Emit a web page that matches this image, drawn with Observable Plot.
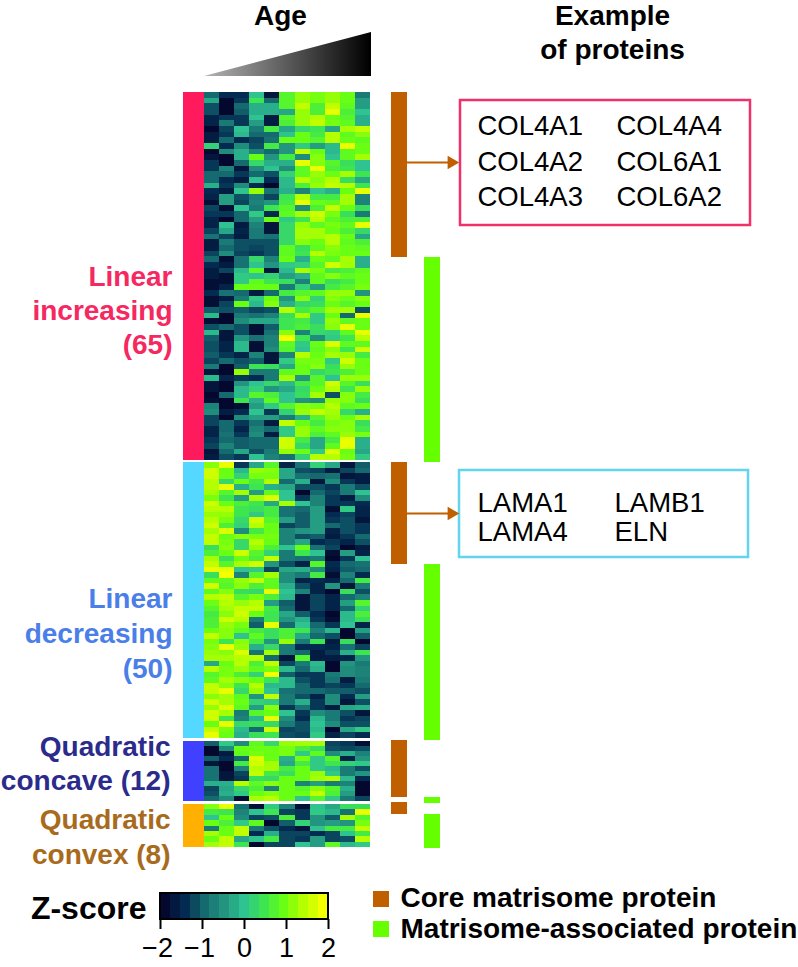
<!DOCTYPE html>
<html><head><meta charset="utf-8">
<style>html,body{margin:0;padding:0;background:#fff}svg{display:block}</style>
<script src="https://cdn.jsdelivr.net/npm/d3@7"></script>
<script src="https://cdn.jsdelivr.net/npm/@observablehq/plot@0.6"></script>
</head><body><div id="chart"></div>
<script>
// Z-scores: one row per protein, eleven age columns.
const linearIncreasing = [
[-1,-1.5,-1.5,0,-1.8,0.8,1.3,1.1,1.3,1,-0.8],
[-0.3,-2,-1.4,0.5,-1,0.8,1.3,1.1,1.3,1,-0.4],
[-1.2,-2,-1,-0.2,-0.2,0.8,1.6,0.7,1.6,0.9,-0.4],
[-1.2,-2,-1.1,-0.2,-0.2,-0.3,1.3,0.7,1.9,0.7,0],
[-1.6,-1.4,-1.4,0,-1.7,0.8,1.3,1.5,1,0.8,-0.2],
[-1.6,-0.8,-1.4,-0.4,-1.7,0.7,1.3,1.6,1.1,0.9,-0.2],
[-2,-1.3,0,-0.8,0.6,-0.3,0.3,0.5,-0.3,1.4,1.6],
[-1.7,-1.4,-0.1,-1,-1,0,1,0.6,1.5,0.9,1.2],
[-1.7,-1,-1.5,-1.3,-0.9,1,1,0.8,1.5,1,0.9],
[0.2,-1.5,-0.6,-1.2,0.6,-0.5,0.1,-0.4,-0.1,1.9,1],
[-2,-0.6,-0.2,-0.7,-1,-0.5,1.6,1,-0.1,0.9,1],
[-1.8,-2,-0.2,1,-0.5,0.6,-0.6,1.2,0,0.9,1.4],
[-1.4,-2,-1,0.3,-0.2,-0.2,1.9,1.2,0.8,0.4,0],
[-1.4,-0.7,-1.8,-0.6,0,-0.6,0.9,1.9,0.7,0.5,0],
[-1,-1,-1.4,-1,-1.2,0.2,0.9,1.3,1,1.4,0.5],
[-1,-1.5,-1.7,0,-1.5,-0.1,1.5,1.2,1.5,0.4,-0.3],
[-0.2,-1.4,-0.6,-1.5,-2,-0.1,0.7,1.3,1.6,1.5,0.5],
[-1.5,-1.7,0,1.3,-0.9,-0.2,-0.7,0,-0.2,1,1.9],
[-1.6,-0.4,-1.2,-0.8,-1.3,0.5,1.5,0.6,0.6,1.4,-0.7],
[-1.9,-0.4,-1.3,-0.7,-0.5,0.6,1.9,1,0.9,1.4,-0.7],
[-1.3,-1.9,0,-0.8,0.5,0.8,-0.6,0.7,1.6,1,0.4],
[-1.4,-1.4,-1,0.1,-1.5,0.9,1.4,1.7,1.1,0.4,-0.8],
[-1.6,-2,-1,-0.4,1,0.1,0.5,1.5,0.9,0.7,0.7],
[-1.6,0,-1.7,-0.7,-1.8,0.3,1.3,0.9,1.1,0.9,1.9],
[-1.3,-0.3,-1.6,-0.8,-1.8,0.3,1.4,1.4,1,0.7,0.3],
[-0.9,-1.3,-1.7,-0.8,-0.9,0.3,1.4,1.4,1.5,1,-0.3],
[-1.7,-0.8,-1.2,-1.2,-1.2,0.3,1.2,1,1.5,0.9,0.7],
[-1.7,-1,-1.2,-1.3,-1.2,0.9,0.4,0.9,1.2,1,0.9],
[-1.3,-0.6,-1.3,-1.4,-1.2,0.9,0.5,1.5,1.1,1,1],
[-1,-1.9,-0.9,0.3,-0.7,1,-0.2,1,0.9,1.4,-0.2],
[-1.5,-1.7,-0.9,0,-0.5,0.1,0.2,0.8,1.7,1.4,-0.2],
[-1.7,-1.3,-0.1,0.9,-1.8,-0.1,1.4,1.1,0.6,0.7,0.9],
[-1.7,-1.9,0.1,0,0.2,-0.4,-0.2,0.9,1.2,0.9,1],
[-1.9,-1.9,0.1,0.9,0.5,0.4,-0.7,0.9,0.4,0.6,1],
[-1.9,-1.6,1,1,1,-0.8,0.2,-0.4,0.6,0.8,1.1],
[-1.5,-0.9,-1,-1.7,-1,0.6,0.8,0.9,1.3,1.3,-0.5],
[-1.9,-1.7,-0.8,0.1,1,-0.5,1.2,0.2,1.2,1,1.2],
[-1.9,-1.3,1,-0.1,1.2,-0.2,0.3,0.4,1,0.8,1],
[-1.1,-1.2,-1.1,-1.3,-1.2,1.5,0.6,0.8,1.4,1.4,-1.2],
[-0.1,-2,-0.8,-0.9,-0.7,0.4,1.4,0.1,1,-1,1.9],
[-1.9,-2,-0.6,-0.3,-0.3,0.5,0.6,0.1,1.3,0.9,1],
[-1.2,-1,-1.2,-1.9,-1.1,0.5,0.7,0.4,1.2,1.9,1],
[-0.1,-1.8,-1.2,-1.9,-0.9,1.2,-0.7,0.3,0.2,0.9,1.9],
[-1.1,-1.8,-0.5,-0.9,-0.7,2,0.5,-0.6,0.1,0.5,1.5],
[-1.2,-1.6,-0.1,-1.9,-0.7,0.9,0.1,1,1.8,0.9,0.9],
[-1.2,-1.6,-0.1,-1.9,-0.6,0.8,0,0.9,1.2,0.5,1.7],
[-1.1,-1.4,-1.6,-0.7,-1.8,-0.7,1.5,1,1.4,1.3,0.6],
[-1.3,-1,-1.2,-1.1,-1.8,0.1,1.1,1.1,0.1,1.7,1],
[-0.8,-2,-1.1,0.5,0.4,-0.3,1,1.2,0.4,1.3,1],
[-1.8,-2,1.3,-0.8,-0.8,0.9,1,0.3,0.5,0.7,1],
[-0.1,-1.6,-1.4,-1.5,-0.8,1.4,-0.5,0.8,0,1.3,1.3],
[-1.8,-2,-0.5,0,0.3,-0.1,0.6,0.8,1.7,0.8,0.4],
[-1.8,-2,-0.1,0.2,-0.5,-0.3,0.3,1,1.5,0.5,1.3],
[-2,-1,-0.1,0.8,0.7,0,0.4,1.4,-1.2,1.2,0.6],
[-1.9,-2,0.5,-0.2,0.9,0,-0.5,-0.6,1.3,1.2,0.4],
[-0.7,-2,-1.9,-0.4,0.1,0.8,1.2,1.1,1.5,0.9,1],
[-0.6,-1.7,-1.5,0,-1.4,0.2,1.3,1.6,1.4,0.3,-0.2],
[-1.3,-2,-0.6,-0.4,-0.4,-0.8,-0.2,0.8,1.3,1,1.4],
[-1.3,-1,-1.4,-0.9,-1.7,1.6,1,0.6,1.1,1.2,0.4],
[-1.6,-1,-1.6,-0.7,-1,0.1,1.3,0.9,1.2,1.2,0.6],
[-1.6,-0.9,-1.4,-0.6,-1.7,0.1,1.3,0.7,0.9,1.3,1.1],
[-1.4,-1,-1.1,-1,-1,1.7,0.6,-0.3,0.6,1.9,-0.2],
[-1.3,-0.7,-1.1,-1,-1,1.7,0.3,-0.3,0.9,1.9,-0.2],
[-1.8,-1,-0.3,-1.2,-0.8,1.3,1,0.1,1.8,1,-0.3],
[-1.7,-1.2,-1.4,0,-0.7,-0.9,0.2,1.5,1.5,1.1,0.1]
];
const linearDecreasing = [
[1.2,1.9,-1.4,-0.3,0.8,-1.6,-0.9,0.2,-0.3,-1.8,-1.1],
[1.7,1,-0.1,1.3,1.2,-0.3,-1.2,-1.3,-1.7,-1.3,-1],
[1.7,1,0.2,1.1,1.1,-0.3,-0.9,-1,-0.9,-1.8,-1.7],
[1.5,0.3,1,0.6,1.5,-1,-0.2,-1.8,-0.6,-1.4,-1.7],
[1.5,1.9,-0.2,0.5,-0.2,-0.3,-1.2,-1.2,-1.4,-0.8,-1.2],
[1.4,0.8,1.4,-0.4,0.9,0,-2,-1,-1.3,-0.8,0],
[1.1,0.5,-0.4,1.4,1.8,0,-1.4,-0.7,-1.4,-1.7,-0.6],
[1.7,1,0.7,0.5,-0.3,1.4,0,-0.7,-1.4,-1.4,-1.5],
[1.5,1.5,0.5,0.4,0.6,-0.9,-1,-0.4,-1.9,0.1,-1.6],
[1.3,1.3,0.5,0.1,0.6,-0.9,-1.1,-0.4,-1.5,-1.3,-1.6],
[1.5,1.1,0.3,1.7,0.8,-0.4,-1.1,-0.4,-1.4,-1.2,-1.8],
[1.7,0.7,0.2,1.5,1,-1.3,-1.1,-0.4,-1,-1.2,-1.4],
[1.4,1.8,-0.6,0.6,1,-0.7,-0.5,-0.4,-1.6,-1.2,-1.4],
[1.6,1,1.2,1.1,1.1,-0.7,-1.2,-1.1,-1.7,-1.4,-1],
[1.6,1.1,0.3,1.5,1,-0.7,-0.3,-1.5,-1.4,-1.6,-1.2],
[0.4,1.2,0.3,1.3,0.7,0,1,-0.9,-1.3,-2,-1.7],
[0.7,1,1.7,0.8,0.2,-0.8,0.5,0,-1.9,-0.4,-1.6],
[1.4,0.4,1,0.7,1.6,-0.8,-0.9,-0.8,-2,-1.4,0],
[1.6,0.8,1.4,1.7,-0.5,-1.2,-1.6,0.8,-1.5,-1,-0.9],
[1.9,1.9,0,0.1,-1.3,-0.3,-0.2,-0.6,-1.6,-1.1,-1],
[0.4,2,-0.7,0.8,1.4,-0.6,-0.8,0.6,-1.9,-0.7,-1.5],
[0.9,0.9,1.3,1.6,0.9,-0.6,-1.6,-1.5,-1.6,-1,0.6],
[1.7,0.8,1.2,0.7,0.9,-0.2,-1.2,-1.6,-0.5,-1.8,-0.8],
[0.9,1.2,0.4,0.3,1.9,0,-0.7,-1.6,-2,0.4,-1.2],
[1.5,1.6,0.8,1.1,0.7,-0.1,-1.8,-1.3,-1.6,-1,-0.7],
[1,1.5,1.3,1.5,-0.4,-1.1,-1.8,-1.3,-1.6,-0.4,0.8],
[0.8,1.4,1.6,1.6,0.6,-1,-1.8,-1.3,-1.6,-1,0.2],
[0.6,1.2,1.7,1,0.5,-0.3,-1.1,-1.5,-2,-0.1,0.7],
[0.7,1.7,1.5,-0.8,0.5,-0.5,-0.2,-1.4,-1.9,-0.1,0.4],
[0.7,1.3,1.1,-1.1,1.9,-1,0,-1,-1.4,0,-1.6],
[1,1.2,0.9,0.6,0.4,0.7,0.5,-0.7,-0.1,-2,-0.4],
[1.6,1.2,0,0.9,0.4,0.7,-0.3,-1,-1.2,-2,-1.1],
[1.1,0.5,1.2,0.6,-0.5,1.3,-0.8,0.5,-1.7,0.4,-2],
[1.2,1.9,1.3,-0.2,0.3,-0.8,-1.5,-1.5,-1.6,-0.9,-1.3],
[1.3,1.2,1.8,-0.9,1.4,-0.8,-1,-1.7,-1.4,-0.2,0.5],
[1.4,1.4,1.5,1.5,-1,-1.8,0.8,-1.7,-1.7,-1.6,-0.5],
[-0.3,1,1.5,0.7,1.6,-1.3,-0.8,-0.1,-2,-0.5,-0.8],
[1.5,1.1,1.3,0.9,1.1,-0.1,-1,-0.2,-2,-0.6,-0.7],
[0.8,1.1,0.7,0.2,2,-1.1,-1.4,-1.4,-0.8,-0.6,-0.7],
[0.9,1.4,1.2,1,0.5,-0.1,-1.2,-1.4,-0.9,-1.7,-0.8],
[1.6,1.2,0.5,1.5,-0.1,-0.1,-1,-1.4,-1.3,-1.4,-1],
[1.6,1.9,0.3,1.3,0,-0.9,-1,-1,-1.1,-1.1,-1.2],
[1.2,1.4,0.9,-0.5,1.6,-0.8,-1.2,-1.6,-0.6,-1.5,-0.4],
[1.7,1.4,1,0.2,0.1,-0.8,-0.2,-1.4,-0.6,-1.8,-1.2],
[1.3,1.8,0.9,-0.4,1.2,-1.4,-0.9,-1.4,-1.7,-0.3,-0.2],
[1.7,1.4,-0.8,0.8,1,0,-1.4,-0.6,-0.8,-1.2,-1.8],
[1.7,0.5,-0.7,-0.1,1.9,-0.6,-1.5,-0.1,-0.8,-1.4,-1.3],
[1,1.9,0.3,0.4,0.3,-0.8,-1.2,0,-0.6,-1.2,-1.2],
[1.6,1.1,-0.1,-1,1.7,-1.3,-1.2,-0.1,-2,-0.3,0.1],
[1.9,1,-0.2,0.4,0.5,-1.2,-1.3,0.1,-1.6,-1.3,-1.5]
];
const quadraticConcave = [
[-1.1,0.1,-0.6,0.9,0.3,1.3,1.4,1.4,-1.3,-1.4,-1.9],
[-2,-0.6,1,1,1,1.1,0.7,0.4,-1.2,-1.3,-1.2],
[-2,-1.7,0.9,1.1,1,1.1,0.1,0.9,-0.6,-0.2,-0.7],
[-1.1,-1.5,-1,1.8,1,-0.2,1.1,0.1,0.8,-1.6,-0.5],
[-1.8,-2,0.6,1.7,1.4,-0.3,0.6,0.1,0.5,0.2,0.1],
[-0.9,-2,-0.7,1.5,1.4,0.6,1,0.1,-0.1,-0.8,-1.2],
[-0.9,-1.8,-1.3,1.6,0.6,0.4,1,1.3,0.1,-0.8,-0.5],
[-0.9,-1.8,-1.4,0.4,0.3,1,1,1.4,1.5,-0.1,-1.5],
[-0.2,-0.2,1.5,0.9,1.2,1,-0.7,-0.4,-0.8,-0.7,-2],
[-1.3,-0.3,0.3,0.7,-0.7,1,0.8,1.2,0.8,-0.2,-2],
[-1.2,-0.2,0.1,1,1.2,1,1,1.6,0.7,-0.4,-2],
[-1,-0.6,-1.9,1.4,1.5,1,0,0.8,0.1,-0.8,-1.3]
];
const quadraticConvex = [
[1.2,1.9,-0.9,-1.9,0.1,-0.7,-1.9,0,-0.3,0.4,0.4],
[0.6,0.5,-0.7,0,0.5,-1.3,-1.4,0.1,-0.1,-0.9,1.9],
[0,1,-0.6,-1.3,-1.2,0.7,-1.4,-0.5,-1.1,1.4,0.8],
[1,0.7,0.1,0.9,-2,-1.1,0.2,-0.5,-0.4,-0.5,1.1],
[-0.8,1,1.6,-0.8,-1.2,-1.5,-1.8,0,0.6,0.6,1.6],
[1.4,1,1.6,-1.5,-0.2,-1.3,-1.3,-1.5,-1.3,0,0.6],
[1,1.6,-0.3,0,0.6,-1.3,-1.4,-0.4,-1.3,-1.2,1.5],
[1.4,1.6,0.5,-2,-1.3,-1.3,0,-0.4,0.9,-0.1,0.1]
];
const clusters = [linearIncreasing, linearDecreasing, quadraticConcave, quadraticConvex];
const clusterNames = [["Linear","increasing","(65)"],["Linear","decreasing","(50)"],["Quadratic","concave (12)"],["Quadratic","convex (8)"]];
const clusterColors = ["#ff1a5e","#55d8ff","#4040ff","#ffb000"];
const labelColors = ["#f5285f","#4a7ee8","#2b2b8c","#a86a1c"];
const proteinsA = ["COL4A1","COL4A2","COL4A3","COL4A4","COL6A1","COL6A2"];
const proteinsB = ["LAMA1","LAMA4","LAMB1","ELN"];
const legendTicks = [-2,-1,0,1,2];
const legendSteps = [-2,-1.75,-1.5,-1.25,-1,-0.75,-0.5,-0.25,0,0.25,0.5,0.75,1,1.25,1.5,1.75,2];
const colorDomain = [-2,-1.5,-1,-0.5,0,0.5,1,1.5,2];
const colorRange = ["#04082e","#032a50","#156a70","#22947f","#2ec391","#3de550","#68ff14","#b4ff00","#f4ff00"];

// Layout (pixels of the page)
const W = 798, H = 967;
const heatLeft = 204, heatRight = 370;
const clusterBands = [[92,460],[462,738],[741,800.5],[804,847]];
const sideLeft = 183;
const coreBars = [[92,257],[462,564],[740,797],[802,814]];
const assocBars = [[257,462],[564,740],[797,803],[814,848]];
const colW = (heatRight-heatLeft)/11;

const cells = clusters.flatMap((rows,g)=>{
  const [t,b]=clusterBands[g], h=(b-t)/rows.length;
  return rows.flatMap((row,r)=>row.map((v,c)=>({v,
    x1:heatLeft+c*colW,x2:heatLeft+(c+1)*colW,y1:t+r*h,y2:t+(r+1)*h})));
});
const side = clusterBands.map(([y1,y2],i)=>({x1:sideLeft,x2:heatLeft,y1,y2,c:clusterColors[i]}));
const barRect=(spans,x1,x2)=>spans.map(([y1,y2])=>({x1,x2,y1,y2}));

const labelLines = [[277,311,345],[599,634,669],[747,781],[820,855]];
const labelRight = [172,172,170,170];
const labels = clusterNames.flatMap((ls,g)=>ls.map((t,i)=>({t,x:labelRight[g],y:labelLines[g][i],c:labelColors[g]})));

const barL=160, barR=328, barT=893, barB=919;
const legX=v=>barL+(v+2)/4*(barR-barL);
const stepW=(barR-barL)/legendSteps.length;
const legendCells = legendSteps.map((v,i)=>({v,x1:barL+i*stepW,x2:barL+(i+1)*stepW,y1:barT,y2:barB}));

const FONT = "Liberation Sans, Arial, sans-serif";
const chart = Plot.plot({
  width:W,height:H,margin:0,style:{fontFamily:FONT,background:"#fff"},
  x:{type:"linear",domain:[0,W],range:[0,W],axis:null},
  y:{type:"linear",domain:[0,H],range:[0,H],axis:null},
  color:{type:"linear",domain:colorDomain,range:colorRange,clamp:true},
  marks:[
    ()=>{const s=d3.create("svg:defs");
      const g=s.append("linearGradient").attr("id","ageGrad").attr("x1","0%").attr("x2","100%").attr("y1","0%").attr("y2","0%");
      g.append("stop").attr("offset","0%").attr("stop-color","#b4b4b4");
      g.append("stop").attr("offset","100%").attr("stop-color","#000");
      return s.node();},
    Plot.areaY([{x:204,y1:76,y2:76},{x:371,y1:32,y2:76}],{x:"x",y1:"y1",y2:"y2",fill:"url(#ageGrad)"}),
    Plot.rect(cells,{x1:"x1",x2:"x2",y1:"y1",y2:"y2",fill:"v",shapeRendering:"crispEdges"}),
    Plot.rect(side,{x1:"x1",x2:"x2",y1:"y1",y2:"y2",fill:d=>d.c,shapeRendering:"crispEdges"}),
    Plot.rect(barRect(coreBars,391,407),{x1:"x1",x2:"x2",y1:"y1",y2:"y2",fill:"#c05f00"}),
    Plot.rect(barRect(assocBars,424,440),{x1:"x1",x2:"x2",y1:"y1",y2:"y2",fill:"#66ff00"}),
    // boxes
    Plot.rect([{x1:460,x2:750,y1:100,y2:225}],{x1:"x1",x2:"x2",y1:"y1",y2:"y2",fill:"none",stroke:"#f0306a",strokeWidth:2.5}),
    Plot.rect([{x1:459,x2:748,y1:470,y2:557}],{x1:"x1",x2:"x2",y1:"y1",y2:"y2",fill:"none",stroke:"#62d4f0",strokeWidth:2.5}),
    // arrows
    Plot.ruleY([162,513],{x1:407,x2:449,y:d=>d,stroke:"#c05f00",strokeWidth:2}),
    Plot.dot([{x:451,y:162},{x:451,y:513}],{x:"x",y:"y",symbol:"triangle",rotate:90,r:5,fill:"#c05f00",stroke:"none"}),
    // headings
    Plot.text(["Age"],{x:280,y:16,text:d=>d,fontSize:28,fontWeight:"bold",fill:"#000"}),
    Plot.text(["Example","of proteins"],{x:612,y:(d,i)=>[16,50][i],text:d=>d,fontSize:28,fontWeight:"bold",fill:"#000"}),
    Plot.text(labels,{x:"x",y:"y",text:"t",fill:d=>d.c,textAnchor:"end",fontSize:28,fontWeight:"bold"}),
    Plot.text(proteinsA,{x:(d,i)=>i<3?477:616,y:(d,i)=>[126,162,197][i%3],text:d=>d,textAnchor:"start",fontSize:27.5,fill:"#000"}),
    Plot.text(proteinsB,{x:(d,i)=>i<2?477:614,y:(d,i)=>[503,532][i%2],text:d=>d,textAnchor:"start",fontSize:27.5,fill:"#000"}),
    // colour key
    Plot.rect(legendCells,{x1:"x1",x2:"x2",y1:"y1",y2:"y2",fill:"v",shapeRendering:"crispEdges"}),
    Plot.rect([{x1:barL,x2:barR,y1:barT,y2:barB}],{x1:"x1",x2:"x2",y1:"y1",y2:"y2",fill:"none",stroke:"#000",strokeWidth:2}),
    Plot.ruleX(legendTicks,{x:legX,y1:barB,y2:929,stroke:"#000",strokeWidth:2}),
    Plot.text(legendTicks,{x:d=>legX(d)-(d<0?3:0),y:948,text:d=>d<0?"\u2212"+(-d):String(d),fontSize:27,fill:"#000"}),
    Plot.text(["Z-score"],{x:146,y:908,text:d=>d,textAnchor:"end",fontSize:32,fontWeight:"bold",fill:"#000"}),
    Plot.rect([{x1:373,x2:389,y1:891,y2:907}],{x1:"x1",x2:"x2",y1:"y1",y2:"y2",fill:"#c05f00"}),
    Plot.rect([{x1:373,x2:389,y1:921,y2:937}],{x1:"x1",x2:"x2",y1:"y1",y2:"y2",fill:"#66ff00"}),
    Plot.text(["Core matrisome protein","Matrisome-associated protein"],{x:400,y:(d,i)=>[898,929][i],text:d=>d,textAnchor:"start",fontSize:28,fontWeight:"bold",fill:"#000"})
  ]
});
document.getElementById("chart").append(chart);
</script></body></html>
